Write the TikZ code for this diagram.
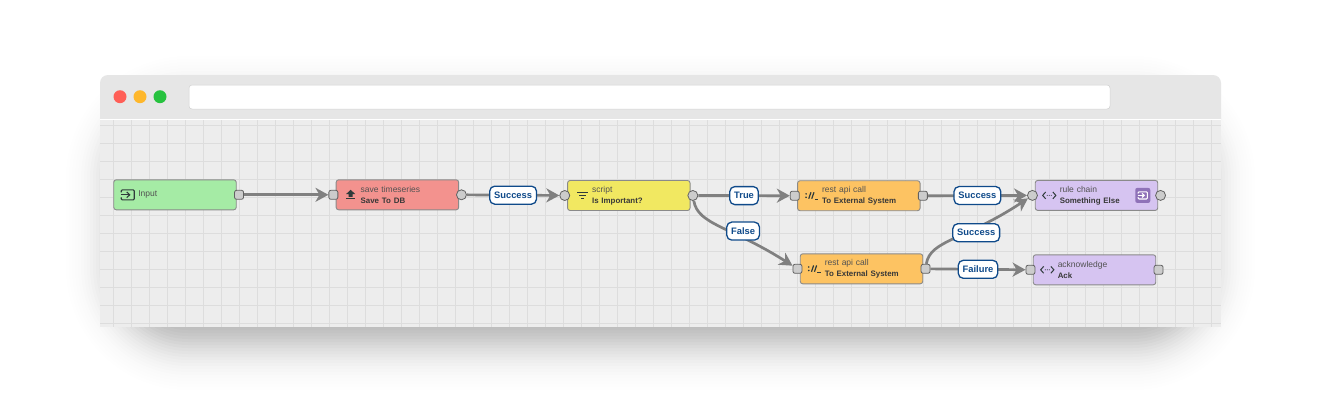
\documentclass[tikz,border=0pt]{standalone}
\usepackage{fontspec}
\setmainfont{Liberation Sans}
\usepackage{xcolor}
\usepackage{tikz}
\usetikzlibrary{arrows.meta,positioning}
\definecolor{barfill}{HTML}{E6E6E6}
\definecolor{canvasfill}{HTML}{EDEDED}
\definecolor{gridgray}{HTML}{DDDDDD}
\definecolor{linkgray}{HTML}{808080}
\definecolor{portgray}{HTML}{CCCCCC}
\definecolor{edgegray}{HTML}{8A8A8A}
\definecolor{labelblue}{HTML}{0F4A8A}
\definecolor{inputgreen}{HTML}{A5EBA5}
\definecolor{actionred}{HTML}{F3928E}
\definecolor{filteryellow}{HTML}{F1E861}
\definecolor{externalorange}{HTML}{FDC362}
\definecolor{flowpurple}{HTML}{D6C4F1}
\definecolor{chippurple}{HTML}{8F72B8}
\definecolor{iconink}{HTML}{2F3B3B}
\definecolor{lampred}{HTML}{FF5F57}
\definecolor{lampamber}{HTML}{FEB72B}
\definecolor{lampgreen}{HTML}{27C23F}
\newcommand{\nodekind}[1]{\mbox{\fontsize{8.5}{11}\selectfont\color{black!68}#1}}
\newcommand{\nodename}[1]{\mbox{\fontsize{7.9}{11}\selectfont\bfseries\color{black!78}#1}}
\tikzset{
  >={Stealth[length=13pt,width=14pt,inset=4pt]},
  link/.style={->,line width=2.7pt,draw=linkgray},
  rulebox/.style={draw=edgegray,line width=.9pt,rounded corners=2.5pt,outer sep=0pt,minimum width=122.5pt,minimum height=30pt,
                  text width=73.5pt,inner xsep=24.5pt,inner ysep=0pt,align=left,font=\fontsize{8.5}{11}\selectfont},
  inputbox/.style={rulebox,fill=inputgreen},
  actionbox/.style={rulebox,fill=actionred},
  filterbox/.style={rulebox,fill=filteryellow},
  externalbox/.style={rulebox,fill=externalorange},
  flowbox/.style={rulebox,fill=flowpurple},
  portsq/.style={draw=black!62,line width=.8pt,fill=portgray,rounded corners=2pt,minimum size=9pt,inner sep=0pt},
  portround/.style={draw=black!62,line width=.8pt,fill=portgray,circle,minimum size=10pt,inner sep=0pt},
  tag/.style={draw=labelblue,line width=1.3pt,fill=white,rounded corners=5pt,minimum height=18pt,inner xsep=4.4pt,inner ysep=0pt,
              text=labelblue,font=\fontsize{9.36}{10}\selectfont\bfseries},
  gridline/.style={draw=gridgray,line width=.9pt},
  lamp/.style={circle,minimum size=13pt,inner sep=0pt},
  entericon/.pic={
    \draw[line width=1.1pt,rounded corners=1pt,pic actions] (-6.5,-2.5) -- (-6.5,-5) -- (6.5,-5) -- (6.5,5) -- (-6.5,5) -- (-6.5,2.5);
    \draw[line width=1.1pt,pic actions] (-7,0) -- (1.5,0);
    \draw[line width=1.1pt,pic actions] (-1,-2.8) -- (2,0) -- (-1,2.8);
  },
  uploadicon/.pic={
    \fill (0,-5) -- (4.5,-.8) -- (2,-.8) -- (2,2) -- (-2,2) -- (-2,-.8) -- (-4.5,-.8) -- cycle;
    \fill (-4.5,3.4) rectangle (4.5,4.6);
  },
  filtericon/.pic={
    \fill (-5.5,-3.6) rectangle (5.5,-2.6);
    \fill (-3.5,-.5) rectangle (3.5,.5);
    \fill (-1.5,2.6) rectangle (1.5,3.6);
  },
  resticon/.pic={
    \fill (-5.5,-1.8) circle (.9pt);
    \fill (-5.5,1.6) circle (.9pt);
    \draw[line width=1.2pt] (-2.8,3) -- (-.6,-3.4);
    \draw[line width=1.2pt] (.2,3) -- (2.4,-3.4);
    \draw[line width=1.2pt] (3.2,3.6) -- (6.8,3.6);
  },
  chainicon/.pic={
    \draw[line width=1pt] (-3.6,-3.4) -- (-6.6,0) -- (-3.6,3.4);
    \draw[line width=1pt] (3.6,-3.4) -- (6.6,0) -- (3.6,3.4);
    \foreach \dotx in {-2,0,2}{\fill (\dotx,0) circle (.55pt);}
  }
}
\begin{document}
\begin{tikzpicture}[x=1pt,y=-1pt]
  \useasboundingbox (0,0) rectangle (1321,402);
  \fill[white] (0,0) rectangle (1321,402);
  \foreach \spread in {66,63,...,-66}{
    \pgfmathsetmacro{\cornerr}{max(\spread+68,1)}
    \pgfmathsetmacro{\layeralpha}{.02*exp(-(\spread/36)^2)}
    \fill[black,fill opacity=\layeralpha,rounded corners=\cornerr pt] (120-\spread,110-\spread) rectangle (1201+\spread,336+\spread);
  }
  \fill[canvasfill] (100,119) rectangle (1221,326.5);
  \fill[barfill] (100,119) [rounded corners=8pt] -- (100,75) -- (1221,75) [sharp corners] -- (1221,119) -- cycle;
  \fill[white] (100,119) rectangle (1221,120.2);
  \foreach \gridx in {113.3,131.3,...,1221}{\draw[gridline] (\gridx,120.2) -- (\gridx,326.5);}
  \foreach \gridy in {125.3,143.3,...,324}{\draw[gridline] (100,\gridy) -- (1221,\gridy);}
  \node[lamp,fill=lampred] (redlamp) at (120,96.7) {};
  \node[lamp,fill=lampamber] (amberlamp) at (140,96.7) {};
  \node[lamp,fill=lampgreen] (greenlamp) at (160,96.7) {};
  \node[fill=white,draw=black!18,line width=.5pt,rounded corners=3pt,minimum width=921pt,minimum height=24pt,inner sep=0pt] (urlbar) at (649.5,97) {};

  \node[inputbox] (input) at (175,194.8) {\nodekind{Input}};
  \node[actionbox,right=99.9pt of input] (save) {\nodekind{save timeseries}\\\nodename{Save To DB}};
  \node[filterbox,right=108.9pt of save,yshift=-.7pt] (script) {\nodekind{script}\\\nodename{Is Important?}};
  \node[externalbox,right=107.5pt of script,yshift=-.2pt] (restok) {\nodekind{rest api call}\\\nodename{To External System}};
  \node[externalbox,below=43.1pt of restok,xshift=2.7pt] (restfalse) {\nodekind{rest api call}\\\nodename{To External System}};
  \node[flowbox,right=115.2pt of restok,yshift=.3pt] (chain) {\nodekind{rule chain}\\\nodename{Something Else}};
  \node[flowbox,right=110.5pt of restfalse,yshift=-1pt] (ack) {\nodekind{acknowledge}\\\nodename{Ack}};

  \node[portsq] (input-out) at ([xshift=2.8pt]input.east) {};
  \node[portsq] (save-in) at ([xshift=-2.8pt]save.west) {};
  \node[portround] (save-out) at ([xshift=2.8pt]save.east) {};
  \node[portround] (script-in) at ([xshift=-2.8pt]script.west) {};
  \node[portround] (script-out) at ([xshift=2.8pt]script.east) {};
  \node[portsq] (restok-in) at ([xshift=-2.8pt]restok.west) {};
  \node[portsq] (restok-out) at ([xshift=2.8pt]restok.east) {};
  \node[portsq] (restfalse-in) at ([xshift=-2.8pt]restfalse.west) {};
  \node[portsq] (restfalse-out) at ([xshift=2.8pt]restfalse.east) {};
  \node[portround] (chain-in) at ([xshift=-2.8pt]chain.west) {};
  \node[portround] (chain-out) at ([xshift=2.8pt]chain.east) {};
  \node[portsq] (ack-in) at ([xshift=-2.8pt]ack.west) {};
  \node[portsq] (ack-out) at ([xshift=2.8pt]ack.east) {};

  \pic[color=iconink] at ([xshift=14pt]input.west) {entericon};
  \pic[color=iconink] at ([xshift=14.5pt]save.west) {uploadicon};
  \pic[color=iconink] at ([xshift=14.5pt]script.west) {filtericon};
  \pic[color=iconink] at ([xshift=14pt]restok.west) {resticon};
  \pic[color=iconink] at ([xshift=14pt]restfalse.west) {resticon};
  \pic[color=iconink] at ([xshift=14pt]chain.west) {chainicon};
  \pic[color=iconink] at ([xshift=14pt]ack.west) {chainicon};
  \node[fill=chippurple,rounded corners=2pt,minimum size=15pt,inner sep=0pt] (chainchip) at ([xshift=-15pt]chain.east) {};
  \pic[color=white,scale=.72] at (chainchip) {entericon};

  \draw[link] (input-out) -- (save-in);
  \draw[link] (save-out) -- node[tag] (tagsuccessa) {Success} (script-in);
  \draw[link] (script-out) -- node[tag] (tagtrue) {True} (restok-in);
  \draw[link] (script-out) .. controls (698,225) and (730,226) .. node[tag,pos=.69,yshift=7pt] (tagfalse) {False} (restfalse-in);
  \draw[link] (restok-out) -- node[tag] (tagsuccessb) {Success} (chain-in);
  \draw[link] (restfalse-out) .. controls (930,240) and (965,240) .. node[tag,pos=.68,yshift=-5pt] (tagsuccessc) {Success} (chain-in);
  \draw[link] (restfalse-out) -- node[tag] (tagfailure) {Failure} (ack-in);
\end{tikzpicture}
\end{document}
